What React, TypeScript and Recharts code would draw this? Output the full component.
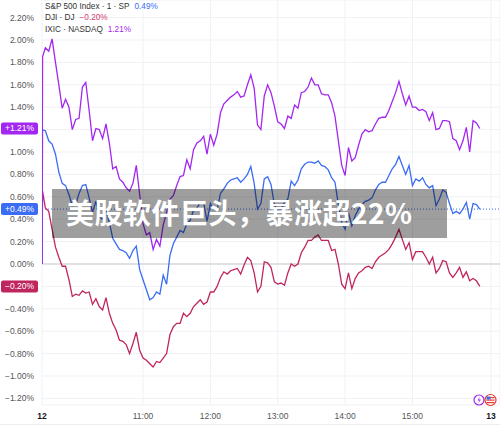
import React from 'react';
import { LineChart, Line, XAxis, YAxis, CartesianGrid, ReferenceLine } from 'recharts';

// intraday % change, one value every 3 minutes from 9:30 (first value = opening print)
const ixicValues = [
  1.85, 1.93, 1.9, 2.01, 1.8, 1.6, 1.39, 1.47, 1.4, 1.2,
  1.29, 1.3, 1.58, 1.62, 1.37, 1.1, 1.21, 1.2, 1.12, 1.25,
  1.08, 0.85, 0.87, 0.76, 0.73, 0.68, 0.65, 0.72, 0.88, 0.62,
  0.36, 0.26, 0.28, 0.13, 0.22, 0.16, 0.35, 0.46, 0.58, 0.61,
  0.7, 0.78, 0.79, 0.93, 0.85, 1.02, 1.08, 1.1, 1.14, 0.98,
  1.16, 1.06, 1.16, 1.35, 1.43, 1.46, 1.49, 1.51, 1.54, 1.49,
  1.5, 1.6, 1.69, 1.57, 1.24, 1.2, 1.5, 1.6, 1.53, 1.41,
  1.27, 1.25, 1.21, 1.32, 1.3, 1.42, 1.39, 1.53, 1.54, 1.58,
  1.66, 1.6, 1.6, 1.52, 1.51, 1.51, 1.44, 1.32, 1.1, 0.88,
  0.79, 1.04, 0.92, 0.95, 1.06, 1.16, 1.2, 1.18, 1.19, 1.25,
  1.3, 1.31, 1.31, 1.37, 1.45, 1.53, 1.63, 1.52, 1.42, 1.5,
  1.4, 1.4, 1.37, 1.38, 1.36, 1.28, 1.35, 1.2, 1.21, 1.28,
  1.28, 1.27, 1.12, 1.1, 1.02, 1.1, 1.22, 1.0, 1.28, 1.26,
  1.21,
];

const spxValues = [
  1.2, 1.19, 1.1, 1.07, 0.98, 0.82, 0.72, 0.7, 0.62, 0.52,
  0.53, 0.63, 0.7, 0.71, 0.59, 0.46, 0.56, 0.42, 0.4, 0.48,
  0.37, 0.23, 0.18, 0.13, 0.12, 0.1, 0.05, 0.12, 0.16, -0.05,
  -0.14, -0.23, -0.32, -0.3, -0.25, -0.27, -0.1, -0.18, 0.08, 0.18,
  0.24, 0.3, 0.28, 0.36, 0.39, 0.48, 0.5, 0.55, 0.55, 0.38,
  0.54, 0.49, 0.48, 0.63, 0.67, 0.72, 0.75, 0.76, 0.77, 0.73,
  0.76, 0.8, 0.87, 0.72, 0.49, 0.54, 0.76, 0.78, 0.71, 0.53,
  0.48, 0.49, 0.55, 0.58, 0.74, 0.7, 0.75, 0.85, 0.89, 0.91,
  0.91, 0.9, 0.92, 0.88, 0.87, 0.84, 0.77, 0.73, 0.53, 0.37,
  0.31, 0.46, 0.34, 0.43, 0.49, 0.53, 0.56, 0.57, 0.59, 0.66,
  0.71, 0.73, 0.73, 0.79, 0.85, 0.89, 0.96, 0.88, 0.8, 0.88,
  0.7, 0.76, 0.74, 0.77, 0.71, 0.68, 0.7, 0.52, 0.58, 0.66,
  0.64, 0.54, 0.45, 0.47, 0.45, 0.49, 0.55, 0.4, 0.54, 0.53,
  0.49,
];

const djiValues = [
  0.65, 0.5, 0.47, 0.31, 0.15, 0.06, -0.02, -0.02, -0.14, -0.29,
  -0.27, -0.28, -0.24, -0.26, -0.25, -0.36, -0.31, -0.38, -0.41, -0.3,
  -0.44, -0.53, -0.59, -0.68, -0.69, -0.72, -0.8, -0.71, -0.61, -0.77,
  -0.84, -0.86, -0.89, -0.92, -0.87, -0.88, -0.84, -0.8, -0.63, -0.56,
  -0.53, -0.53, -0.44, -0.47, -0.44, -0.38, -0.35, -0.32, -0.36, -0.34,
  -0.25, -0.25, -0.2, -0.12, -0.07, -0.09, -0.06, -0.05, -0.04, -0.09,
  -0.01, 0.06, 0.03, -0.08, -0.25, -0.2, 0.02, 0.01, -0.03, -0.16,
  -0.18, -0.17, -0.19, -0.08, 0.0, -0.02, 0.0, 0.1, 0.15, 0.21,
  0.21, 0.24, 0.26, 0.21, 0.21, 0.21, 0.12, 0.13, 0.0, -0.18,
  -0.22, -0.08, -0.22, -0.13, -0.08, -0.06, -0.03, -0.02, -0.04, 0.02,
  0.06, 0.08, 0.1, 0.13, 0.18, 0.24, 0.31, 0.22, 0.13, 0.19,
  0.04, 0.11, 0.11, 0.11, 0.06, 0.0, 0.06, -0.08, -0.04, 0.03,
  0.02, -0.08, -0.12, -0.08, -0.03, -0.12, -0.07, -0.15, -0.13, -0.15,
  -0.2,
];

const xTicks = [0, 90, 150, 210, 270, 330, 400];
const xTickLabels = ['12', '11:00', '12:00', '13:00', '14:00', '15:00', '13'];
const yTicks = [-1.2, -1, -0.8, -0.6, -0.4, -0.2, 0, 0.2, 0.4, 0.6, 0.8, 1, 1.2, 1.4, 1.6, 1.8, 2, 2.2];
const hiddenYTicks = [1.2, -0.2]; // covered by the last-value badges

const spxLast = 0.49;
const djiLast = -0.2;
const ixicLast = 1.21;

const SPX = '#3a6cf4';
const DJI = '#c0265e';
const IXIC = '#a327f0';

const rows = [
  { t: 0, spx: 0, dji: 0, ixic: 0 },
  ...ixicValues.map((v, i) => ({
    t: i === 0 ? 0.5 : i * 3,
    spx: spxValues[i],
    dji: djiValues[i],
    ixic: v,
  })),
];

const pct = (v: number) => {
  const s = Math.abs(v).toFixed(2) + '%';
  return v < 0 ? '\u2212' + s : s;
};

function YTick({ x, y, payload }: any) {
  if (hiddenYTicks.includes(payload.value)) return null;
  return (
    <text x={x} y={y} textAnchor="end" dominantBaseline="central" fontSize={8.5} fill="#555">
      {pct(payload.value)}
    </text>
  );
}

function XTick({ x, y, payload }: any) {
  const i = xTicks.indexOf(payload.value);
  const bold = i === 0 || i === xTicks.length - 1;
  return (
    <text
      x={x}
      y={y + 3}
      textAnchor="middle"
      dominantBaseline="central"
      fontSize={8.5}
      fontWeight={bold ? 700 : 400}
      fill={bold ? '#131722' : '#555'}
    >
      {xTickLabels[i]}
    </text>
  );
}

const badge = (value: number, color: string) => (props: any) => {
  const y = props.viewBox.y;
  const txt = (value > 0 ? '+' : '') + pct(value);
  return (
    <g>
      <rect x={1} y={y - 6} width={37} height={12} rx={2} fill={color} />
      <text x={19.5} y={y} textAnchor="middle" dominantBaseline="central" fontSize={8.5} fill="#fff">
        {txt}
      </text>
    </g>
  );
};

const legendRows = [
  { name: 'S&P 500 Index \u00b7 1 \u00b7 SP', value: pct(spxLast), color: SPX },
  { name: 'DJI \u00b7 DJ', value: pct(djiLast), color: '#d23a6e' },
  { name: 'IXIC \u00b7 NASDAQ', value: pct(ixicLast), color: IXIC },
];

export default function App() {
  return (
    <div
      style={{
        position: 'absolute',
        left: 0,
        top: 0,
        width: 500,
        height: 429,
        background: '#fff',
        fontFamily: '"Liberation Sans", Arial, sans-serif',
        overflow: 'hidden',
      }}
    >
      <LineChart width={500} height={429} data={rows} margin={{ top: 0, right: 0, bottom: 0, left: 0 }}>
        <CartesianGrid stroke="#eff1f5" />
        <XAxis
          dataKey="t"
          type="number"
          domain={[0, 408]}
          ticks={xTicks}
          interval={0}
          allowDataOverflow
          height={24}
          axisLine={false}
          tickLine={false}
          tick={<XTick />}
        />
        <YAxis
          type="number"
          domain={[-1.259, 2.357]}
          ticks={yTicks}
          interval={0}
          allowDataOverflow
          width={42}
          axisLine={false}
          tickLine={false}
          tick={<YTick />}
        />
        <ReferenceLine y={0} stroke="#c8cad0" />
        <ReferenceLine y={spxLast} stroke={SPX} strokeDasharray="1 2" label={badge(spxLast, SPX)} />
        <ReferenceLine y={ixicLast} stroke="none" strokeOpacity={0} label={badge(ixicLast, IXIC)} />
        <ReferenceLine y={djiLast} stroke="none" strokeOpacity={0} label={badge(djiLast, DJI)} />
        <Line dataKey="dji" stroke={DJI} strokeWidth={1.3} dot={false} isAnimationActive={false} />
        <Line dataKey="spx" stroke={SPX} strokeWidth={1.3} dot={false} isAnimationActive={false} />
        <Line dataKey="ixic" stroke={IXIC} strokeWidth={1.3} dot={false} isAnimationActive={false} />
      </LineChart>

      <div style={{ position: 'absolute', left: 45, top: 1, fontSize: 8.2, lineHeight: '11.3px', color: '#333' }}>
        {legendRows.map((r) => (
          <div key={r.name} style={{ whiteSpace: 'nowrap' }}>
            {r.name}
            <span style={{ color: r.color, marginLeft: 5 }}>{r.value}</span>
          </div>
        ))}
      </div>

      <div
        style={{
          position: 'absolute',
          left: 51.5,
          top: 189,
          width: 395,
          height: 49,
          background: 'rgba(0,0,0,0.38)',
        }}
      />
      <div
        style={{
          position: 'absolute',
          left: 66,
          top: 189,
          height: 46,
          lineHeight: '46px',
          fontFamily: '"Noto Sans CJK SC", sans-serif',
          fontWeight: 700,
          fontSize: 28,
          letterSpacing: 0.5,
          color: '#fff',
          whiteSpace: 'nowrap',
        }}
      >
        美股软件巨头，暴涨超22%
      </div>

      <div style={{ position: 'absolute', left: 0, top: 424, width: 500, height: 1, background: '#eceef2' }} />
      <svg style={{ position: 'absolute', left: 472, top: 393 }} width={28} height={14}>
        <circle cx={7} cy={7} r={5} fill="#fff" stroke={IXIC} strokeWidth={1.2} />
        <path d="M8 3.5 L5.5 7.5 L7.5 7.5 L6 10.5 L9 6.5 L7 6.5 Z" fill={IXIC} />
        <circle cx={18.5} cy={7} r={5.5} fill="#fff" stroke="#e53935" strokeWidth={1.2} />
        <rect x={14.5} y={4} width={8} height={1.2} fill="#e53935" />
        <rect x={14.5} y={6.5} width={8} height={1.2} fill="#e53935" />
        <rect x={14.5} y={9} width={8} height={1.2} fill="#e53935" />
        <rect x={14.5} y={3.5} width={4} height={3} fill="#3f6fd8" />
      </svg>
    </div>
  );
}
